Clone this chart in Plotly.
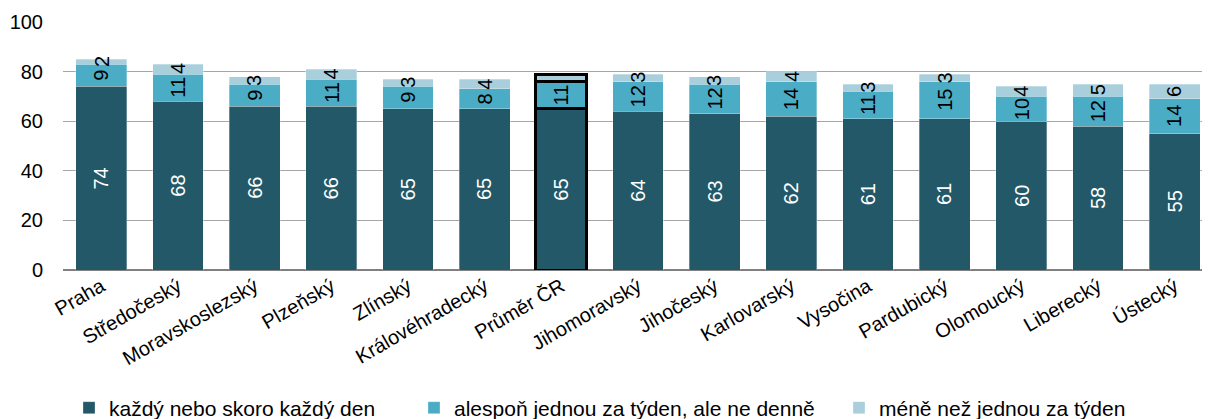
import plotly.graph_objects as go

categories = ["Praha", "Středočeský", "Moravskoslezský", "Plzeňský", "Zlínský",
              "Královéhradecký", "Průměr ČR", "Jihomoravský", "Jihočeský", "Karlovarský",
              "Vysočina", "Pardubický", "Olomoucký", "Liberecký", "Ústecký"]
daily = [74, 68, 66, 66, 65, 65, 65, 64, 63, 62, 61, 61, 60, 58, 55]
weekly = [9, 11, 9, 11, 9, 8, 11, 12, 12, 14, 11, 15, 10, 12, 14]
less = [2, 4, 3, 4, 3, 4, 3, 3, 3, 4, 3, 3, 4, 5, 6]
less_labels = ["2", "4", "3", "4", "3", "4", "", "3", "3", "4", "3", "3", "4", "5", "6"]
series_names = ["každý nebo skoro každý den", "alespoň jednou za týden, ale ne denně",
                "méně než jednou za týden"]
colors = ["#235868", "#4BACC6", "#A9CFDD"]
highlight = "Průměr ČR"

font = "Liberation Sans, Arial, sans-serif"
fig = go.Figure()
legend_ids = ["legend", "legend2", "legend3"]
for name, vals, col, lg in zip(series_names, [daily, weekly, less], colors, legend_ids):
    lw = [3 if c == highlight else 0.6 for c in categories]
    lc = ["black" if c == highlight else "rgba(255,255,255,0.5)" for c in categories]
    fig.add_trace(go.Bar(x=categories, y=vals, name=name, legend=lg, showlegend=True,
                         marker=dict(color=col, line=dict(width=lw, color=lc)), width=0.665))

annotations = []
lab = 20
for i, c in enumerate(categories):
    d, w, l = daily[i], weekly[i], less[i]
    annotations.append(dict(x=c, y=d / 2, text=str(d), textangle=-90, showarrow=False,
                            font=dict(color="white", size=lab, family=font)))
    annotations.append(dict(x=c, y=d + w / 2, text=str(w), textangle=-90, showarrow=False,
                            font=dict(color="black", size=lab, family=font)))
    if less_labels[i]:
        annotations.append(dict(x=c, y=d + w + l / 2, text=less_labels[i], textangle=-90, showarrow=False,
                                font=dict(color="black", size=lab, family=font)))

W, H = 1210, 419
def leg(xpx):
    return dict(orientation="h", xref="container", yref="container", x=xpx / W, xanchor="left",
                y=1 - 400 / H, yanchor="middle", font=dict(size=21), bgcolor="rgba(0,0,0,0)")

fig.update_layout(
    barmode="stack",
    width=W, height=H,
    showlegend=True,
    margin=dict(l=55, r=5, t=14, b=157),
    plot_bgcolor="white", paper_bgcolor="white",
    font=dict(family=font, size=20, color="black"),
    annotations=annotations,
    legend=leg(61), legend2=leg(406), legend3=leg(831),
    xaxis=dict(range=[-0.5, 14.5], tickangle=-30, tickfont=dict(size=20), showline=False, ticks="",
               automargin=False),
    yaxis=dict(range=[0, 100], dtick=20, showgrid=True, gridcolor="#A6A6A6", gridwidth=1,
               zeroline=True, zerolinecolor="#808080", zerolinewidth=2,
               tickfont=dict(size=20), ticks="", ticklabelstandoff=19, automargin=False),
)
fig.write_html("out.html")
